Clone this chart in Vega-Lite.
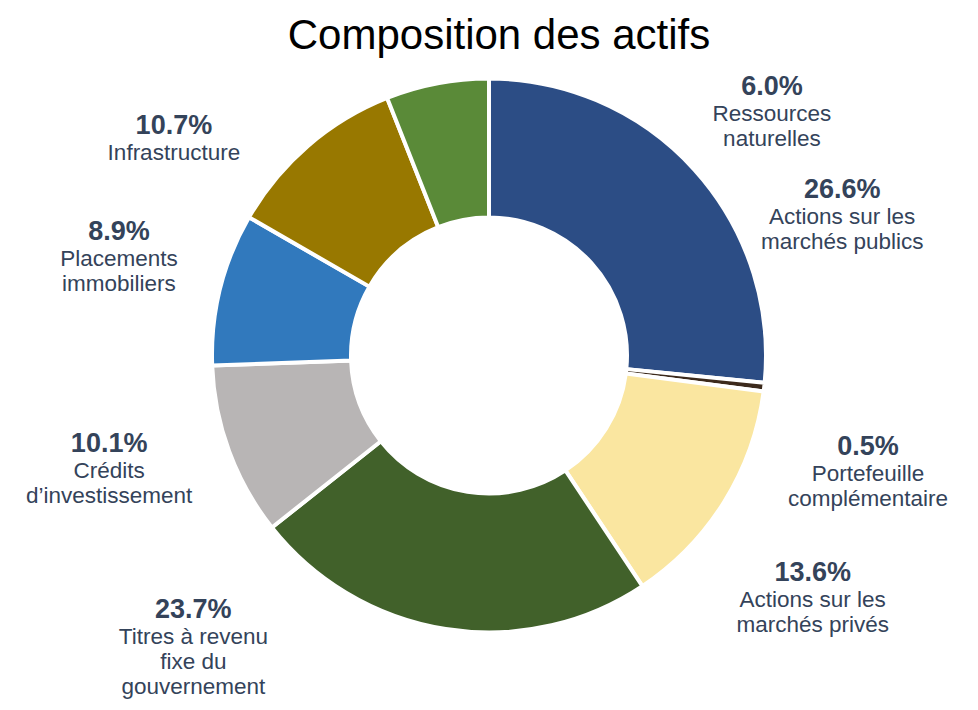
{
  "$schema": "https://vega.github.io/schema/vega-lite/v6.json",
  "width": 978,
  "height": 711,
  "autosize": "none",
  "padding": 0,
  "background": "white",
  "view": {"stroke": null},
  "title": {
    "text": "Composition des actifs",
    "font": "Liberation Sans",
    "fontSize": 42,
    "fontWeight": "normal",
    "color": "#000000",
    "anchor": "middle",
    "frame": "group",
    "orient": "top",
    "offset": -48,
    "baseline": "alphabetic",
    "dx": 10,
    "dy": 43
  },
  "data": {
    "values": [
      {"category": "Actions sur les\nmarchés publics", "share": 0.266},
      {"category": "Portefeuille\ncomplémentaire", "share": 0.005},
      {"category": "Actions sur les\nmarchés privés", "share": 0.136},
      {"category": "Titres à revenu\nfixe du\ngouvernement", "share": 0.237},
      {"category": "Crédits\nd’investissement", "share": 0.101},
      {"category": "Placements\nimmobiliers", "share": 0.089},
      {"category": "Infrastructure", "share": 0.107},
      {"category": "Ressources\nnaturelles", "share": 0.06}
    ]
  },
  "transform": [{"window": [{"op": "row_number", "as": "rank"}]}],
  "layer": [
    {
      "mark": {"type": "arc", "innerRadius": 138, "outerRadius": 277, "stroke": "white", "strokeWidth": 4},
      "encoding": {
        "theta": {"field": "share", "type": "quantitative", "stack": true},
        "order": {"field": "rank", "type": "quantitative"},
        "color": {
          "field": "category",
          "type": "nominal",
          "legend": null,
          "scale": {
            "domain": ["Actions sur les\nmarchés publics", "Portefeuille\ncomplémentaire", "Actions sur les\nmarchés privés", "Titres à revenu\nfixe du\ngouvernement", "Crédits\nd’investissement", "Placements\nimmobiliers", "Infrastructure", "Ressources\nnaturelles"],
            "range": ["#2c4d85", "#3c2a1c", "#fae6a0", "#41612a", "#b8b5b5", "#3179bd", "#987800", "#5a8a38"]
          }
        }
      }
    },
    {
      "mark": {"type": "text", "radius": 390, "font": "Liberation Sans", "fontSize": 27, "fontWeight": "bold", "color": "#34435a", "align": "center", "baseline": "middle"},
      "encoding": {
        "theta": {
          "field": "share", "type": "quantitative", "stack": true,
          "scale": {"type": "linear", "zero": false, "nice": false,
            "domain": [0.133, 0.2685, 0.339, 0.5255, 0.6945, 0.7895, 0.8875, 0.971],
            "range": [1.1327, 1.8082, 2.1625, 4.0020, 4.4837, 5.0335, 5.3425, 7.0948]}
        },
        "order": {"field": "rank", "type": "quantitative"},
        "detail": {"field": "category", "type": "nominal"},
        "text": {"field": "share", "type": "quantitative", "format": ".1%"}
      }
    },
    {
      "mark": {"type": "text", "radius": 390, "font": "Liberation Sans", "fontSize": 22.5, "color": "#34435a", "align": "center", "baseline": "top", "dy": 16, "lineHeight": 25, "lineBreak": "\n"},
      "encoding": {
        "theta": {
          "field": "share", "type": "quantitative", "stack": true,
          "scale": {"type": "linear", "zero": false, "nice": false,
            "domain": [0.133, 0.2685, 0.339, 0.5255, 0.6945, 0.7895, 0.8875, 0.971],
            "range": [1.1327, 1.8082, 2.1625, 4.0020, 4.4837, 5.0335, 5.3425, 7.0948]}
        },
        "order": {"field": "rank", "type": "quantitative"},
        "detail": {"field": "category", "type": "nominal"},
        "text": {"field": "category", "type": "nominal"}
      }
    }
  ],
  "resolve": {"scale": {"theta": "independent"}}
}
